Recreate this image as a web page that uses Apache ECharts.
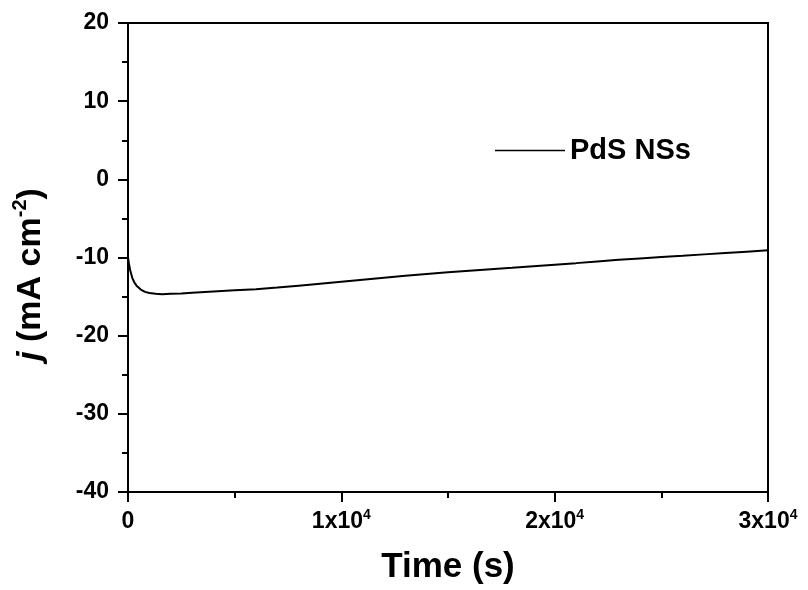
<!DOCTYPE html>
<html>
<head>
<meta charset="utf-8">
<script src="https://cdn.jsdelivr.net/npm/echarts@6/dist/echarts.min.js"></script>
<style>html,body{margin:0;padding:0;background:#fff}#c{width:808px;height:590px}</style>
</head>
<body>
<div id="c"></div>
<script>
const seriesName = 'PdS NSs';
const timeS = [0, 50, 100, 200, 300, 400, 600, 800, 1000, 1300, 1600, 2000, 2500, 3000, 4000, 5000, 6000, 7000, 8000, 9000, 10000, 11000, 12000, 13000, 14000, 15000, 16000, 17000, 18000, 19000, 20000, 21000, 22000, 23000, 24000, 25000, 26000, 27000, 28000, 29000, 30000];
const currentJ = [-10.0, -10.9, -11.6, -12.6, -13.2, -13.6, -14.1, -14.4, -14.55, -14.65, -14.7, -14.65, -14.6, -14.5, -14.35, -14.2, -14.05, -13.85, -13.6, -13.35, -13.1, -12.85, -12.6, -12.35, -12.1, -11.9, -11.7, -11.5, -11.32, -11.12, -10.92, -10.72, -10.5, -10.3, -10.12, -9.95, -9.78, -9.6, -9.42, -9.25, -9.08];
const yTicks = [-40, -30, -20, -10, 0, 10, 20];
const xTicks = [0, 10000, 20000, 30000];

const data = timeS.map((t, i) => [t, currentJ[i]]);
const FONT = '"Liberation Sans", Arial, sans-serif';
const chart = echarts.init(document.getElementById('c'), null, {renderer: 'canvas'});
chart.setOption({
  animation: false,
  backgroundColor: '#fff',
  grid: {left: 128, right: 40, top: 23, bottom: 98, show: true, borderColor: '#000', borderWidth: 2, backgroundColor: 'transparent'},
  legend: {
    data: [{name: seriesName, icon: 'path://M0,0H100V2H0Z'}], left: 490, top: 131, itemWidth: 70, itemHeight: 2,
    itemStyle: {color: '#000'},
    textStyle: {fontFamily: FONT, fontWeight: 'bold', fontSize: 29, color: '#000'}
  },
  xAxis: {
    type: 'value', min: xTicks[0], max: xTicks[xTicks.length - 1], interval: 10000,
    axisLine: {show: true, onZero: false, lineStyle: {color: '#000', width: 2}},
    axisTick: {show: true, length: 10, lineStyle: {color: '#000', width: 2}},
    minorTick: {show: true, splitNumber: 2, length: 6, lineStyle: {color: '#000', width: 2}},
    splitLine: {show: false},
    axisLabel: {
      margin: 16, color: '#000',
      formatter: v => v === 0 ? '{n|0}' : '{n|' + (v / 10000) + 'x10}{s|4}',
      rich: {
        n: {fontFamily: FONT, fontWeight: 'bold', fontSize: 23, lineHeight: 28, color: '#000'},
        s: {fontFamily: FONT, fontWeight: 'bold', fontSize: 14, lineHeight: 14, verticalAlign: 'top', color: '#000'}
      }
    },
    name: 'Time (s)', nameLocation: 'middle', nameGap: 58,
    nameTextStyle: {fontFamily: FONT, fontWeight: 'bold', fontSize: 35, color: '#000'}
  },
  yAxis: {
    type: 'value', min: yTicks[0], max: yTicks[yTicks.length - 1], interval: 10,
    axisLine: {show: true, onZero: false, lineStyle: {color: '#000', width: 2}},
    axisTick: {show: true, length: 10, lineStyle: {color: '#000', width: 2}},
    minorTick: {show: true, splitNumber: 2, length: 6, lineStyle: {color: '#000', width: 2}},
    splitLine: {show: false},
    axisLabel: {margin: 19, color: '#000', fontFamily: FONT, fontWeight: 'bold', fontSize: 23},
    name: '{i|j}{n| (mA cm}{s|-2}{n|)}', nameLocation: 'middle', nameGap: 76, nameRotate: 90,
    nameTextStyle: {
      color: '#000', padding: [0, 34, 0, 0],
      rich: {
        i: {fontFamily: FONT, fontWeight: 'bold', fontStyle: 'italic', fontSize: 34, lineHeight: 42, color: '#000'},
        n: {fontFamily: FONT, fontWeight: 'bold', fontSize: 34, lineHeight: 42, color: '#000'},
        s: {fontFamily: FONT, fontWeight: 'bold', fontSize: 20, lineHeight: 20, verticalAlign: 'top', color: '#000'}
      }
    }
  },
  series: [{
    name: seriesName, type: 'line', data: data, symbol: 'none', showSymbol: false,
    lineStyle: {color: '#000', width: 2}, itemStyle: {color: '#000'}
  }]
});
</script>
</body>
</html>
